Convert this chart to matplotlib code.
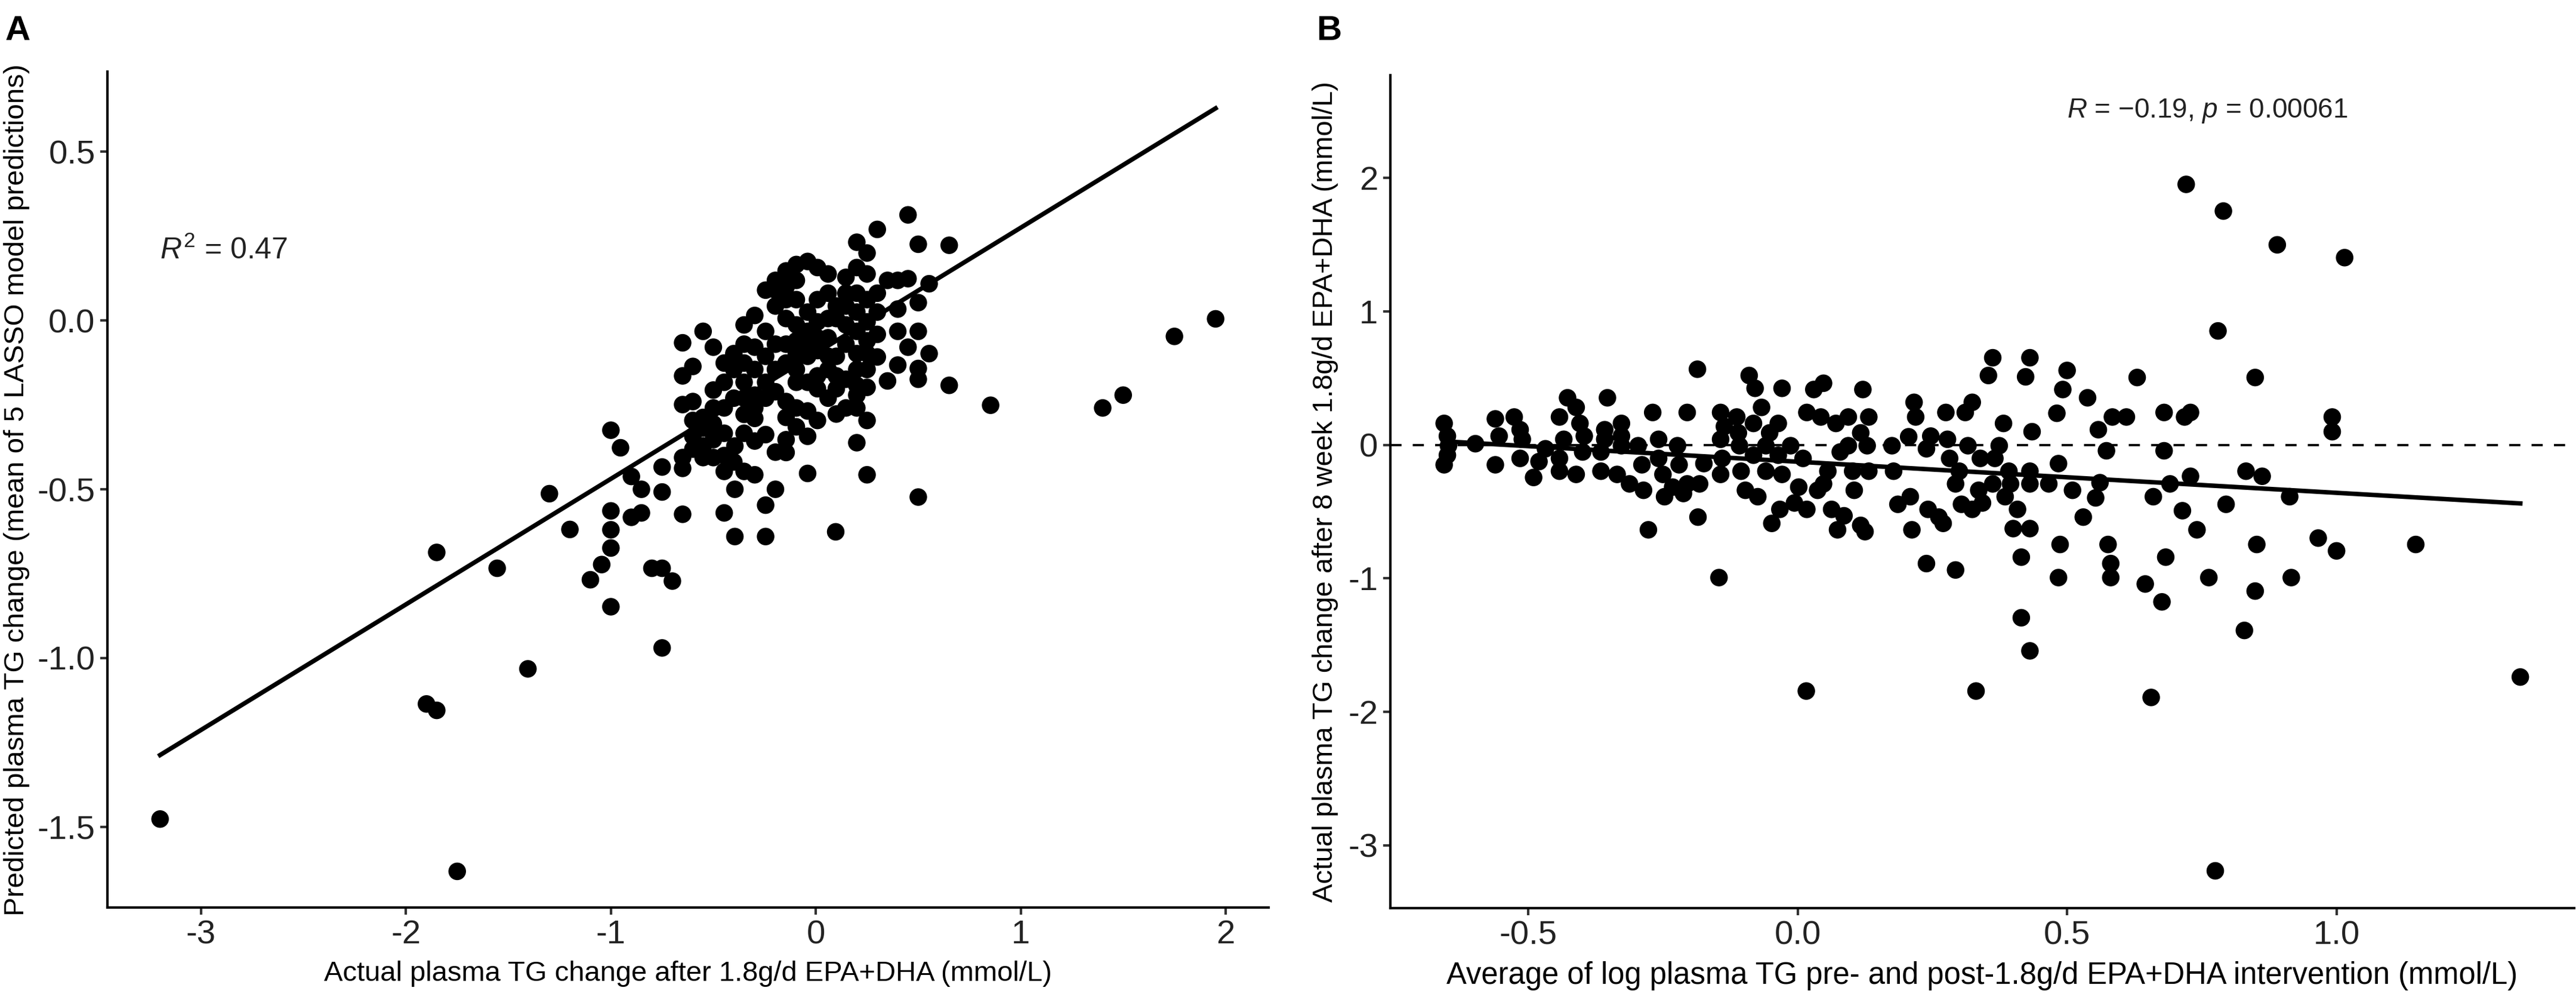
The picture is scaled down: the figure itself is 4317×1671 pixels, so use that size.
import numpy as np
import matplotlib
matplotlib.use("Agg")
import matplotlib.pyplot as plt

plt.rcParams['font.family'] = ['Liberation Sans', 'DejaVu Sans']
plt.rcParams['mathtext.fontset'] = 'custom'
plt.rcParams['mathtext.rm'] = 'Liberation Sans'
plt.rcParams['mathtext.it'] = 'Liberation Sans:italic'

# ---- panel A: actual vs predicted TG change ----
a_actual = [
    -3.20, -1.75, -1.90, -1.85, -1.85, -1.555, -1.405, -1.30, -1.20, -1.00,
    -0.953, -1.00, -1.00, -1.00, -1.00, -1.045, -1.10, -0.90, -0.851, -0.90,
    -0.851, -0.80, -0.75, -0.70, -0.75, -0.75, -0.75, -0.65, -0.65, -0.65,
    -0.65, -0.55, -0.50,
    1.951, 1.75, 1.50, 1.40, 0.853, 0.651, 0.651, 0.50, 0.097, 0.45,
    0.50, 0.30, 0.20, 0.25, 0.553, 0.50, 0.50, 0.50, 0.50, 0.553,
    0.40, 0.35, 0.45, 0.40, 0.40, 0.35, 0.40, 0.45, 0.25, 0.25,
    0.20, 0.20, 0.25, -0.04, -0.04, -0.04, -0.245, -0.395, -0.447, -0.395,
    -0.245, -0.197, -0.298, -0.35, -0.197, -0.298, -0.245, -0.298, -0.395, -0.447,
    -0.50, -0.55, -0.50, -0.55, -0.60, -0.60, -0.60, -0.50, -0.447, -0.60,
    -0.65, -0.65, -0.55, -0.40, -0.35, -0.298, -0.245, -0.197, -0.145, -0.145,
    -0.095, 0.008, 0.06, 0.10, 0.10, 0.147, 0.008, -0.095, 0.147, 0.20,
    0.25, 0.25, 0.30, 0.20, 0.147, 0.10, 0.30,
    -0.35, -0.298, -0.245, -0.197, -0.145, -0.197, -0.245, -0.197, -0.145, -0.095,
    -0.04, 0.008, 0.06, 0.147, 0.20, 0.25, 0.147, 0.10, 0.06, 0.008,
    -0.04, -0.095, -0.04, 0.008, 0.06, 0.06, 0.10, 0.147, 0.20, 0.25,
    0.20, -0.095, -0.145, -0.145, -0.095, -0.04, -0.04, 0.008, 0.06, 0.008,
    -0.095, -0.245, -0.298, -0.35, -0.40, -0.447, -0.40, -0.35, -0.298, -0.245,
    -0.197, -0.145, -0.35, -0.298, -0.447, -0.50, -0.50, -0.447, -0.40, -0.447,
    -0.55, -0.60, -0.35, -0.145, -0.145, -0.095, 0.008, -0.35, -0.145, -0.095,
    -0.197, 0.25, 0.30, 0.147, 0.25, 0.20, 0.30, 0.06, 0.10, -0.04,
    -0.095, 0.20, 0.20,
]
a_predicted = [
    -1.477, -1.632, -1.136, -1.155, -0.687, -0.734, -1.032, -0.513, -0.619, -0.325,
    -0.377, -0.564, -0.620, -0.674, -0.848, -0.723, -0.768, -0.462, -0.500, -0.583,
    -0.570, -0.734, -0.734, -0.772, -0.970, -0.508, -0.434, -0.574, -0.438, -0.406,
    -0.066, -0.032, -0.079,
    0.005, -0.047, -0.221, -0.259, -0.251, -0.192, 0.223, -0.523, -0.626, 0.313,
    0.226, 0.270, 0.232, 0.200, 0.109, 0.053, -0.032, -0.142, -0.174, -0.098,
    -0.132, -0.179, -0.079, -0.032, 0.034, 0.119, 0.119, 0.124, -0.457, -0.296,
    -0.362, -0.259, -0.198, -0.453, -0.343, -0.268, -0.640, -0.640, -0.570, -0.500,
    -0.547, -0.500, -0.457, -0.447, -0.390, -0.357, -0.338, -0.290, -0.372, -0.334,
    -0.406, -0.406, -0.353, -0.319, -0.296, -0.343, -0.240, -0.206, -0.183, -0.136,
    -0.164, -0.249, -0.287, -0.230, -0.126, -0.145, -0.183, -0.211, -0.240, -0.287,
    -0.259, -0.202, -0.230, -0.202, -0.277, -0.259, -0.164, -0.145, -0.174, -0.145,
    -0.145, -0.098, -0.041, -0.032, -0.070, -0.106, 0.081,
    -0.013, 0.015, -0.032, -0.070, 0.006, 0.043, 0.090, 0.119, 0.147, 0.119,
    0.175, 0.157, 0.138, 0.128, 0.157, 0.138, 0.081, 0.043, 0.081, 0.062,
    0.025, -0.013, -0.032, -0.004, 0.006, -0.051, 0.006, -0.013, 0.025, 0.062,
    0.081, 0.062, 0.062, -0.070, -0.098, -0.106, -0.070, -0.089, -0.106, -0.051,
    -0.060, -0.106, -0.079, -0.070, -0.098, -0.126, -0.145, -0.183, -0.221, -0.230,
    -0.145, -0.126, -0.230, -0.259, -0.259, -0.259, -0.306, -0.400, -0.419, -0.447,
    -0.372, -0.381, -0.334, -0.353, -0.391, -0.315, -0.296, -0.278, 0.100, 0.166,
    0.090, -0.004, 0.025, 0.043, -0.060, -0.098, -0.108, -0.145, -0.164, -0.183,
    -0.183, -0.221, -0.192,
]
a_fit_slope = 0.372
a_fit_intercept = -0.097
a_r2_label = '$R^2$ = 0.47'

# ---- panel B: mean log TG vs actual TG change ----
b_mean_log = [
    -0.656, -0.656, -0.650, -0.648, -0.650, -0.598, -0.561, -0.554, -0.561, -0.526,
    -0.515, -0.511, -0.515, -0.490, -0.480, -0.468, -0.442, -0.427, -0.434, -0.442,
    -0.442, -0.411, -0.404, -0.396, -0.411, -0.399, -0.365, -0.358, -0.365, -0.353,
    -0.358, -0.335, -0.327, -0.327, -0.327, -0.312, -0.296, -0.289, -0.286, -0.277,
    -0.269, -0.258, -0.258, -0.250, -0.247, -0.223, -0.220, -0.232, -0.205, -0.205,
    -0.212, -0.186, -0.182, -0.185, -0.174, -0.146, -0.143, -0.143, -0.136, -0.143,
    -0.140, -0.113, -0.108, -0.105, -0.097, -0.110, -0.090, -0.079, -0.074, -0.082,
    -0.082, -0.067, -0.059, -0.052, -0.059, -0.048, -0.036, -0.029, -0.036, -0.033,
    -0.029, -0.013, -0.006, 0.002, 0.010, 0.016, 0.017, 0.017, 0.030, 0.037,
    0.048, 0.043, 0.048, 0.056, 0.063, 0.071, 0.074, 0.079, 0.086, 0.094,
    0.094, 0.102, 0.105, 0.117, 0.121, 0.117, 0.125, 0.129, 0.132, 0.132,
    0.175, 0.178, 0.186, 0.206, 0.209, 0.212, 0.216, 0.219, 0.239, 0.242,
    0.239, 0.247, 0.262, 0.270, 0.275, 0.278, 0.282, 0.293, 0.293, 0.300,
    0.304, 0.311, 0.316, 0.324, 0.324, 0.331, 0.336, 0.339, 0.343, 0.354,
    0.362, 0.362, 0.366, 0.374, 0.382, 0.385, 0.392, 0.395, 0.400, 0.408,
    0.415, 0.415, 0.423, 0.431, 0.431, 0.431, 0.431, 0.435, 0.431, 0.466,
    0.481, 0.484, 0.487, 0.484, 0.500, 0.492, 0.510, 0.530, 0.538, 0.553,
    0.558, 0.561, 0.573, 0.576, 0.581, 0.581, 0.584, 0.610, 0.630, 0.645,
    0.656, 0.660, 0.676, 0.680, 0.680, 0.683, 0.691, 0.714, 0.718, 0.721,
    0.729, 0.729, 0.741, 0.763, 0.780, 0.775, 0.790, 0.795, 0.832, 0.829,
    0.849, 0.849, 0.852, 0.862, 0.890, 0.913, 0.916, 0.966, 0.992, 0.992,
    1.000, 1.015, 1.147, 1.341,
]
b_tg_change = [
    0.161, -0.149, 0.066, -0.006, -0.077, 0.009, 0.195, 0.066, -0.149, 0.209,
    0.114, 0.042, -0.101, -0.244, -0.125, -0.029, 0.209, 0.353, 0.042, -0.197,
    -0.101, 0.281, 0.161, 0.066, -0.221, -0.053, -0.197, 0.042, -0.053, 0.353,
    0.114, -0.221, 0.161, 0.066, -0.006, -0.292, -0.006, -0.149, -0.340, -0.636,
    0.243, 0.042, -0.101, -0.221, -0.388, -0.006, -0.149, -0.316, 0.243, -0.292,
    -0.364, 0.567, -0.292, -0.541, -0.140, -0.994, 0.042, 0.243, 0.138, -0.221,
    -0.101, 0.209, -0.006, -0.197, -0.340, 0.090, 0.520, 0.424, -0.388, -0.077,
    0.161, 0.281, -0.006, 0.090, -0.197, -0.588, 0.161, 0.424, -0.077, -0.483,
    -0.221, -0.006, -0.435, -0.316, -0.101, -1.844, 0.243, -0.483, 0.415, -0.340,
    0.462, 0.209, -0.292, -0.197, -0.483, 0.161, -0.636, -0.053, -0.531, -0.006,
    0.209, -0.197, -0.340, -0.603, 0.415, 0.090, -0.650, -0.006, 0.209, -0.197,
    -0.006, -0.197, -0.445, 0.061, -0.388, -0.636, 0.319, 0.209, -0.889, -0.483,
    -0.029, 0.066, -0.541, -0.588, 0.243, 0.042, -0.101, -0.937, -0.292, -0.197,
    -0.445, 0.243, -0.006, 0.319, -0.483, -1.844, -0.340, -0.101, -0.435, 0.520,
    0.653, -0.292, -0.101, -0.006, 0.161, -0.388, -0.197, -0.292, -0.627, -0.483,
    -0.841, -1.295, 0.510, 0.653, -1.543, -0.627, -0.197, 0.099, -0.292, -0.292,
    0.237, -0.140, -0.746, -0.994, 0.558, 0.415, -0.340, -0.541, 0.353, -0.397,
    0.114, -0.283, -0.044, -0.746, -0.889, -0.994, 0.209, 0.209, 0.505, -1.042,
    -1.892, -0.388, -1.176, -0.044, 0.243, -0.841, -0.292, -0.493, 0.209, 1.952,
    0.243, -0.235, -0.636, -0.994, 0.854, -3.191, 1.752, -0.445, -0.197, -1.390,
    0.505, -1.095, -0.746, -0.235, 1.499, -0.388, -0.994, -0.698, 0.209, 0.099,
    -0.794, 1.403, -0.746, -1.739,
]
b_fit_slope = -0.233
b_fit_intercept = -0.126
b_cor_label = '$R$ = \u22120.19, $p$ = 0.00061'

W, H, DPI = 4317, 1671, 300
fig = plt.figure(figsize=(W / DPI, H / DPI), dpi=DPI)

ax_a = fig.add_axes([0.0417, 0.0898, 0.4508, 0.8382])
ax_b = fig.add_axes([0.5397, 0.0892, 0.4596, 0.8354])

tick_col = '#222222'
for ax in (ax_a, ax_b):
    for side in ('top', 'right'):
        ax.spines[side].set_visible(False)
    for side in ('left', 'bottom'):
        ax.spines[side].set_linewidth(1.0)
        ax.spines[side].set_color('black')
    ax.tick_params(axis='both', length=2.9, width=1.0, color='#333333',
                   labelsize=13.5, labelcolor=tick_col, pad=2)

# panel A
ax_a.scatter(a_actual, a_predicted, s=50, color='black', edgecolors='none', zorder=3)
xa = np.array([min(a_actual), max(a_actual)])
ax_a.plot(xa, a_fit_intercept + a_fit_slope * xa, color='black', lw=1.8, zorder=4)
ax_a.set_xlim(-3.457, 2.21)
ax_a.set_ylim(-1.739, 0.737)
ax_a.set_xticks([-3, -2, -1, 0, 1, 2])
ax_a.set_xticklabels(['-3', '-2', '-1', '0', '1', '2'])
ax_a.set_yticks([-1.5, -1.0, -0.5, 0.0, 0.5])
ax_a.set_yticklabels(['-1.5', '-1.0', '-0.5', '0.0', '0.5'])
ax_a.set_xlabel('Actual plasma TG change after 1.8g/d EPA+DHA (mmol/L)',
                fontsize=11.3, labelpad=4)
ax_a.set_ylabel('Predicted plasma TG change (mean of 5 LASSO model predictions)',
                fontsize=11.4, labelpad=3)
ax_a.text(-3.2, 0.207, a_r2_label, fontsize=12, color=tick_col, va='center', ha='left')

# panel B
ax_b.axhline(0, color='black', lw=0.9, ls=(0, (5, 5)), zorder=2)
ax_b.scatter(b_mean_log, b_tg_change, s=50, color='black', edgecolors='none', zorder=3)
xb = np.array([min(b_mean_log), max(b_mean_log)])
ax_b.plot(xb, b_fit_intercept + b_fit_slope * xb, color='black', lw=1.8, zorder=4)
ax_b.set_xlim(-0.756, 1.441)
ax_b.set_ylim(-3.47, 2.77)
ax_b.set_xticks([-0.5, 0.0, 0.5, 1.0])
ax_b.set_xticklabels(['-0.5', '0.0', '0.5', '1.0'])
ax_b.set_yticks([-3, -2, -1, 0, 1, 2])
ax_b.set_yticklabels(['-3', '-2', '-1', '0', '1', '2'])
ax_b.set_xlabel('Average of log plasma TG pre- and post-1.8g/d EPA+DHA intervention (mmol/L)',
                fontsize=12.2, labelpad=4)
ax_b.set_ylabel('Actual plasma TG change after 8 week 1.8g/d EPA+DHA (mmol/L)',
                fontsize=11.25, labelpad=4)
ax_b.text(0.5, 2.5, b_cor_label, fontsize=11, color=tick_col, va='center', ha='left')

fig.text(0.002, 0.985, 'A', fontsize=14, fontweight='bold', va='top', ha='left')
fig.text(0.511, 0.985, 'B', fontsize=14, fontweight='bold', va='top', ha='left')

fig.savefig('out.png', dpi=DPI)
